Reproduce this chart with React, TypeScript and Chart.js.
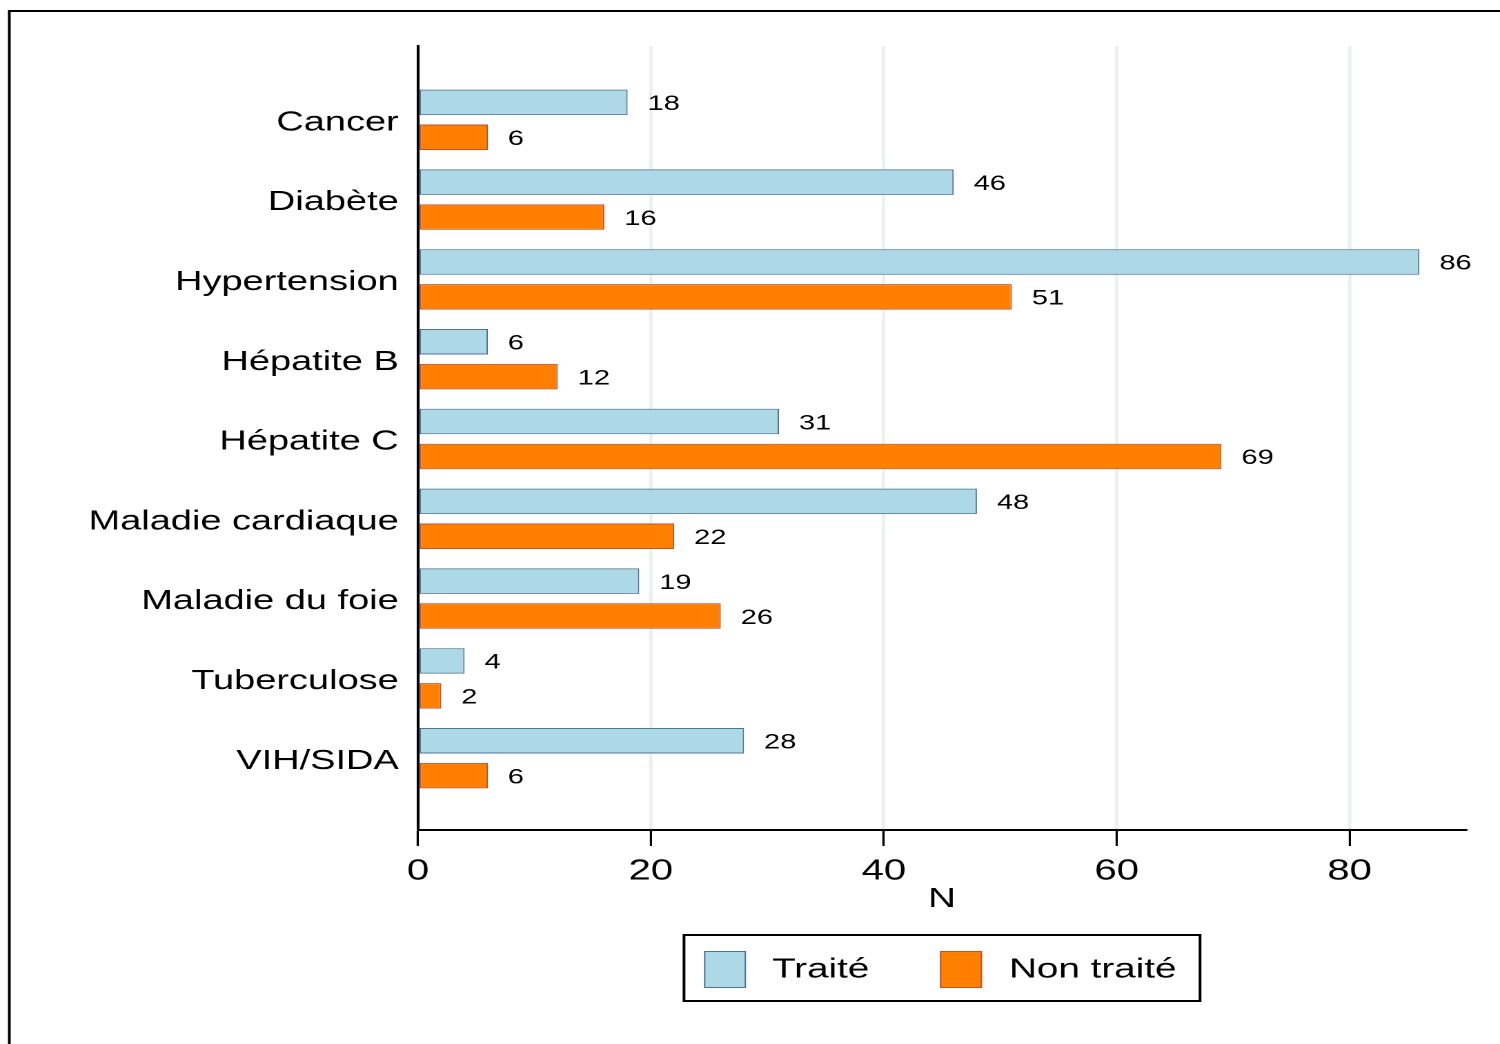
import React, { useEffect, useRef } from 'react';
import { Chart, registerables } from 'chart.js';

Chart.register(...registerables);

// ---------- data ----------
const CATEGORIES = [
  'Cancer',
  'Diabète',
  'Hypertension',
  'Hépatite B',
  'Hépatite C',
  'Maladie cardiaque',
  'Maladie du foie',
  'Tuberculose',
  'VIH/SIDA',
];
const TRAITE = [18, 46, 86, 6, 31, 48, 19, 4, 28];
const NON_TRAITE = [6, 16, 51, 12, 69, 22, 26, 2, 6];
const SERIES_LABELS = ['Traité', 'Non traité'];
const X_TICKS = [0, 20, 40, 60, 80];
const X_MAX = 90;
const X_TITLE = 'N';

// ---------- layout / style ----------
const W = 1087;
const H = 1044;
const SX = 1500 / W; // the reference is horizontally stretched
const px = (x: number) => x / SX;
const FONT = '"Liberation Sans", Arial, Helvetica, sans-serif';
const COLORS = {
  traiteFill: '#add8e6',
  traiteBorder: '#4f7396',
  nonFill: '#ff7f00',
  nonBorder: '#c4532c',
  grid: '#e9f1f3',
};

const framePlugin = {
  id: 'framePlugin',
  beforeDraw(chart: any) {
    const ctx = chart.ctx;
    ctx.save();
    ctx.fillStyle = '#ffffff';
    ctx.fillRect(0, 0, chart.width, chart.height);
    ctx.strokeStyle = '#000000';
    ctx.lineWidth = 2;
    ctx.beginPath();
    ctx.moveTo(px(9.3), chart.height + 20);
    ctx.lineTo(px(9.3), 11);
    ctx.lineTo(chart.width + 20, 11);
    ctx.stroke();
    ctx.restore();
  },
};

const barLabelPlugin = {
  id: 'barLabelPlugin',
  afterDatasetsDraw(chart: any) {
    const ctx = chart.ctx;
    ctx.save();
    ctx.font = `21px ${FONT}`;
    ctx.fillStyle = '#000';
    ctx.textAlign = 'left';
    ctx.textBaseline = 'middle';
    chart.data.datasets.forEach((ds: any, di: number) => {
      const meta = chart.getDatasetMeta(di);
      meta.data.forEach((el: any, i: number) => {
        const v = ds.data[i].x;
        ctx.fillText(String(v), el.x + 14.5, el.y + 2);
      });
    });
    ctx.restore();
  },
};

const legendPlugin = {
  id: 'legendBoxPlugin',
  afterDraw(chart: any) {
    const ctx = chart.ctx;
    ctx.save();
    ctx.strokeStyle = '#000';
    ctx.lineWidth = 2;
    ctx.strokeRect(px(684), 935, px(1200) - px(684), 66);
    const items = [
      { sx: 704, tx: 772 },
      { sx: 940, tx: 1009 },
    ];
    chart.data.datasets.forEach((ds: any, i: number) => {
      const it = items[i];
      const x = px(it.sx);
      const w = px(it.sx + 42) - x;
      ctx.fillStyle = ds.backgroundColor;
      ctx.fillRect(x, 951, w, 37);
      ctx.lineWidth = 1;
      ctx.strokeStyle = ds.borderColor;
      ctx.strokeRect(x + 0.5, 951.5, w - 1, 36);
      ctx.fillStyle = '#000';
      ctx.font = `28px ${FONT}`;
      ctx.textAlign = 'left';
      ctx.textBaseline = 'middle';
      ctx.fillText(ds.label, px(it.tx), 970);
    });
    ctx.restore();
  },
};

export default function App() {
  const ref = useRef<HTMLCanvasElement>(null);

  useEffect(() => {
    document.body.style.margin = '0';
    document.body.style.overflow = 'hidden';
    const canvas = ref.current;
    if (!canvas) return;

    const chart = new Chart(canvas, {
      type: 'bar',
      data: {
        datasets: [
          {
            label: SERIES_LABELS[0],
            data: TRAITE.map((v, i) => ({ x: v, y: i })),
            backgroundColor: COLORS.traiteFill,
            borderColor: COLORS.traiteBorder,
            borderWidth: 1,
            borderSkipped: false,
          },
          {
            label: SERIES_LABELS[1],
            data: NON_TRAITE.map((v, i) => ({ x: v, y: i })),
            backgroundColor: COLORS.nonFill,
            borderColor: COLORS.nonBorder,
            borderWidth: 1,
            borderSkipped: false,
          },
        ],
      },
      options: {
        indexAxis: 'y',
        responsive: false,
        animation: false,
        devicePixelRatio: 2,
        categoryPercentage: 0.875,
        barPercentage: 0.73,
        layout: { padding: { top: 46, right: W - px(1466), bottom: 0, left: 0 } },
        plugins: {
          legend: { display: false },
          tooltip: { enabled: false },
          title: { display: false },
        },
        scales: {
          x: {
            type: 'linear',
            position: 'bottom',
            min: 0,
            max: X_MAX,
            offset: false,
            afterBuildTicks: (s: any) => {
              s.ticks = X_TICKS.map((v) => ({ value: v }));
            },
            afterFit: (s: any) => {
              s.height = H - 830;
            },
            grid: {
              color: COLORS.grid,
              lineWidth: 2.4,
              drawTicks: true,
              tickLength: 16,
              tickColor: '#000',
              tickWidth: 1.6,
            },
            border: { display: true, color: '#000', width: 2, z: 1 },
            ticks: {
              font: { family: FONT, size: 29 },
              color: '#000',
              padding: 8,
              maxRotation: 0,
              autoSkip: false,
            },
            title: {
              display: true,
              text: X_TITLE,
              font: { family: FONT, size: 28 },
              color: '#000',
              padding: { top: 0, bottom: 128 },
            },
          },
          y: {
            type: 'linear',
            reverse: true,
            offset: false,
            min: -0.925,
            max: 8.9,
            afterBuildTicks: (s: any) => {
              s.ticks = CATEGORIES.map((_, i) => ({ value: i }));
            },
            afterFit: (s: any) => {
              s.width = px(418);
            },
            grid: { display: false, drawTicks: false, offset: false },
            border: { display: true, color: '#000', width: 2, z: 1 },
            ticks: {
              font: { family: FONT, size: 27.5 },
              color: '#000',
              padding: 14,
              labelOffset: 3,
              autoSkip: false,
              callback: (v: any) => CATEGORIES[v] ?? '',
            },
          },
        },
      } as any,
      plugins: [framePlugin, barLabelPlugin, legendPlugin],
    });

    return () => chart.destroy();
  }, []);

  return (
    <div
      style={{
        width: W,
        height: H,
        transform: `scaleX(${SX})`,
        transformOrigin: '0 0',
      }}
    >
      <canvas
        ref={ref}
        width={W}
        height={H}
        style={{ display: 'block', width: W, height: H }}
      />
    </div>
  );
}
